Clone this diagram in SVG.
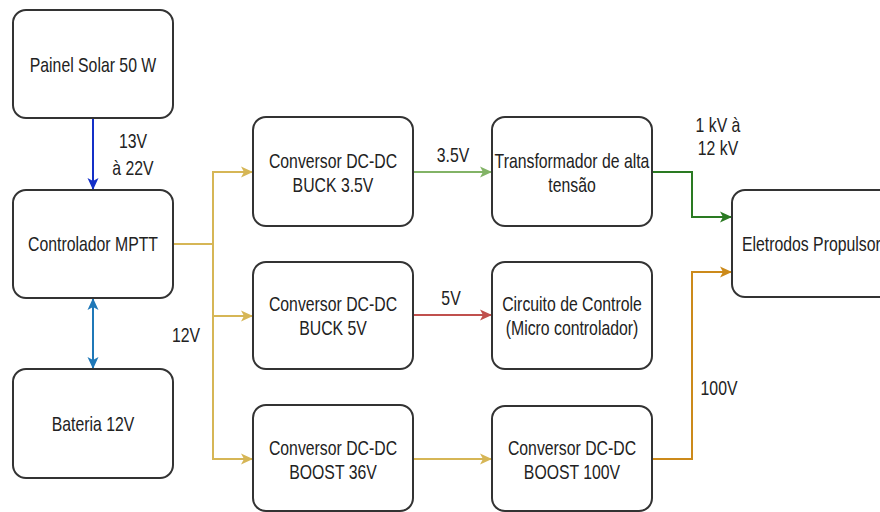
<svg xmlns="http://www.w3.org/2000/svg" width="880" height="512" viewBox="0 0 880 512">
<defs>
<style>
.box{fill:#fff;stroke:#333;stroke-width:2}
.t{font-family:"Liberation Sans",Arial,sans-serif;font-size:20px;fill:#222;text-anchor:middle}
.c{fill:none;stroke-width:2}
</style>
<marker id="aBlue" markerUnits="userSpaceOnUse" markerWidth="14" markerHeight="12" refX="12" refY="6" orient="auto-start-reverse" viewBox="0 0 14 12"><path d="M0,0.5 L12,6 L0,11.5 L3,6 z" fill="#1430c8"/></marker>
<marker id="aDbl" markerUnits="userSpaceOnUse" markerWidth="14" markerHeight="12" refX="12" refY="6" orient="auto-start-reverse" viewBox="0 0 14 12"><path d="M0,0.5 L12,6 L0,11.5 L3,6 z" fill="#1f78b8"/></marker>
<marker id="aYel" markerUnits="userSpaceOnUse" markerWidth="14" markerHeight="12" refX="12" refY="6" orient="auto" viewBox="0 0 14 12"><path d="M0,0.5 L12,6 L0,11.5 L3,6 z" fill="#d6b656"/></marker>
<marker id="aGrn" markerUnits="userSpaceOnUse" markerWidth="14" markerHeight="12" refX="12" refY="6" orient="auto" viewBox="0 0 14 12"><path d="M0,0.5 L12,6 L0,11.5 L3,6 z" fill="#82b366"/></marker>
<marker id="aRed" markerUnits="userSpaceOnUse" markerWidth="14" markerHeight="12" refX="12" refY="6" orient="auto" viewBox="0 0 14 12"><path d="M0,0.5 L12,6 L0,11.5 L3,6 z" fill="#c0504d"/></marker>
<marker id="aDkG" markerUnits="userSpaceOnUse" markerWidth="14" markerHeight="12" refX="12" refY="6" orient="auto" viewBox="0 0 14 12"><path d="M0,0.5 L12,6 L0,11.5 L3,6 z" fill="#2a7a22"/></marker>
<marker id="aOrg" markerUnits="userSpaceOnUse" markerWidth="14" markerHeight="12" refX="12" refY="6" orient="auto" viewBox="0 0 14 12"><path d="M0,0.5 L12,6 L0,11.5 L3,6 z" fill="#cc8a1a"/></marker>
</defs>
<rect width="880" height="512" fill="#fff"/>
<g id="connectors">
<path class="c" d="M93,118 V190" stroke="#1430c8" marker-end="url(#aBlue)"/>
<path class="c" d="M93,298 V369" stroke="#1f78b8" marker-start="url(#aDbl)" marker-end="url(#aDbl)"/>
<path class="c" d="M173,244 H213 V172 H253" stroke="#d6b656" marker-end="url(#aYel)"/>
<path class="c" d="M173,244 H213 V316 H253" stroke="#d6b656" marker-end="url(#aYel)"/>
<path class="c" d="M173,244 H213 V459 H253" stroke="#d6b656" marker-end="url(#aYel)"/>
<path class="c" d="M413,172 H492" stroke="#82b366" marker-end="url(#aGrn)"/>
<path class="c" d="M413,315 H492" stroke="#c0504d" marker-end="url(#aRed)"/>
<path class="c" d="M413,459 H492" stroke="#d6b656" marker-end="url(#aYel)"/>
<path class="c" d="M652,172 H692 V217 H732" stroke="#2a7a22" marker-end="url(#aDkG)"/>
<path class="c" d="M652,459 H692 V272 H732" stroke="#cc8a1a" marker-end="url(#aOrg)"/>
<text class="t" transform="translate(133,148) scale(0.79,1)"><tspan x="0">13V</tspan><tspan x="0" dy="27">à 22V</tspan></text>
<text class="t" transform="translate(186,342) scale(0.79,1)">12V</text>
<text class="t" transform="translate(453,162) scale(0.79,1)">3.5V</text>
<text class="t" transform="translate(451,305) scale(0.79,1)">5V</text>
<text class="t" transform="translate(718,132) scale(0.79,1)"><tspan x="0">1 kV à</tspan><tspan x="0" dy="23">12 kV</tspan></text>
<text class="t" transform="translate(719,395) scale(0.79,1)">100V</text>
</g>
<g id="painel"><rect class="box" x="13" y="10" width="160" height="108" rx="13"/><text class="t" transform="translate(93,72) scale(0.79,1)">Painel Solar 50 W</text></g>
<g id="controlador"><rect class="box" x="13" y="190" width="160" height="108" rx="13"/><text class="t" transform="translate(93,251) scale(0.79,1)">Controlador MPTT</text></g>
<g id="bateria"><rect class="box" x="13" y="369" width="160" height="109" rx="13"/><text class="t" transform="translate(93,431) scale(0.79,1)">Bateria 12V</text></g>
<g id="buck35"><rect class="box" x="253" y="117" width="160" height="109" rx="13"/><text class="t" transform="translate(333,168) scale(0.79,1)"><tspan x="0">Conversor DC-DC</tspan><tspan x="0" dy="24">BUCK 3.5V</tspan></text></g>
<g id="buck5"><rect class="box" x="253" y="262" width="160" height="107" rx="13"/><text class="t" transform="translate(333,311) scale(0.79,1)"><tspan x="0">Conversor DC-DC</tspan><tspan x="0" dy="24">BUCK 5V</tspan></text></g>
<g id="boost36"><rect class="box" x="253" y="405" width="160" height="106" rx="13"/><text class="t" transform="translate(333,455) scale(0.79,1)"><tspan x="0">Conversor DC-DC</tspan><tspan x="0" dy="24">BOOST 36V</tspan></text></g>
<g id="transformador"><rect class="box" x="492" y="117" width="160" height="109" rx="13"/><text class="t" transform="translate(572,168) scale(0.79,1)"><tspan x="0">Transformador de alta</tspan><tspan x="0" dy="24">tensão</tspan></text></g>
<g id="circuito"><rect class="box" x="492" y="262" width="160" height="107" rx="13"/><text class="t" transform="translate(572,311) scale(0.79,1)"><tspan x="0">Circuito de Controle</tspan><tspan x="0" dy="24">(Micro controlador)</tspan></text></g>
<g id="boost100"><rect class="box" x="492" y="406" width="160" height="105" rx="13"/><text class="t" transform="translate(572,455) scale(0.79,1)"><tspan x="0">Conversor DC-DC</tspan><tspan x="0" dy="24">BOOST 100V</tspan></text></g>
<g id="eletrodos"><rect class="box" x="732" y="190" width="170" height="107" rx="13"/><text class="t" style="text-anchor:start" transform="translate(742,251) scale(0.79,1)">Eletrodos Propulsor</text></g>
</svg>
